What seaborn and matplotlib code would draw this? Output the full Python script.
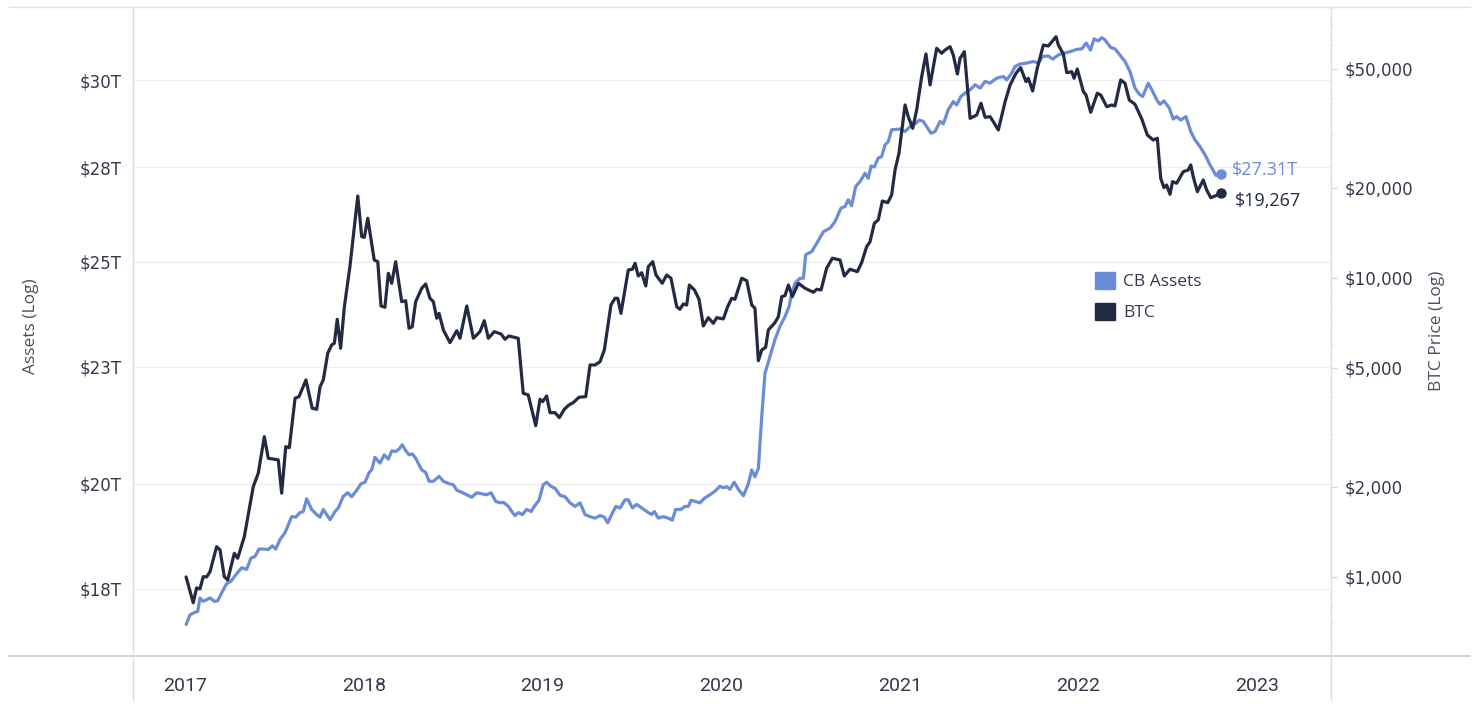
import numpy as np
import pandas as pd
import matplotlib
matplotlib.use('Agg')
import matplotlib.pyplot as plt
import seaborn as sns
from matplotlib.lines import Line2D
from matplotlib.patches import Patch
from matplotlib.ticker import FixedLocator, NullLocator, MultipleLocator, LogLocator

# central bank assets (trillion USD), decimal years
cb_year = [
    2017.006, 2017.028, 2017.052, 2017.071, 2017.084, 2017.102, 2017.140, 2017.164, 2017.183, 2017.205,
    2017.233, 2017.257, 2017.284, 2017.317, 2017.345, 2017.369, 2017.392, 2017.414, 2017.438, 2017.466,
    2017.489, 2017.508, 2017.532, 2017.560, 2017.597, 2017.620, 2017.644, 2017.662, 2017.681, 2017.709,
    2017.737, 2017.756, 2017.774, 2017.812, 2017.840, 2017.858, 2017.886, 2017.911, 2017.933, 2017.961,
    2017.985,
    2018.007, 2018.031, 2018.045, 2018.063, 2018.091, 2018.115, 2018.138, 2018.157, 2018.179, 2018.198,
    2018.216, 2018.235, 2018.254, 2018.272, 2018.291, 2018.325, 2018.347, 2018.366, 2018.390, 2018.422,
    2018.446, 2018.478, 2018.502, 2018.521, 2018.549, 2018.577, 2018.605, 2018.633, 2018.661, 2018.689,
    2018.713, 2018.739, 2018.763, 2018.782, 2018.810, 2018.829, 2018.847, 2018.866, 2018.888, 2018.912,
    2018.937, 2018.955, 2018.981,
    2019.005, 2019.024, 2019.048, 2019.071, 2019.099, 2019.127, 2019.155, 2019.183, 2019.211, 2019.239,
    2019.267, 2019.295, 2019.323, 2019.347, 2019.366, 2019.388, 2019.411, 2019.435, 2019.463, 2019.481,
    2019.504, 2019.528, 2019.556, 2019.584, 2019.612, 2019.627, 2019.649, 2019.677, 2019.705, 2019.727,
    2019.746, 2019.776, 2019.798, 2019.817, 2019.832, 2019.854, 2019.882, 2019.910, 2019.938, 2019.966,
    2019.994,
    2020.013, 2020.032, 2020.050, 2020.074, 2020.097, 2020.125, 2020.151, 2020.172, 2020.190, 2020.209,
    2020.228, 2020.246, 2020.274, 2020.302, 2020.330, 2020.358, 2020.381, 2020.396, 2020.414, 2020.442,
    2020.461, 2020.474, 2020.508, 2020.536, 2020.573, 2020.610, 2020.638, 2020.672, 2020.694, 2020.712,
    2020.731, 2020.754, 2020.778, 2020.806, 2020.824, 2020.840, 2020.858, 2020.880, 2020.899, 2020.918,
    2020.936, 2020.955,
    2021.002, 2021.030, 2021.058, 2021.086, 2021.110, 2021.132, 2021.151, 2021.175, 2021.198, 2021.226,
    2021.244, 2021.272, 2021.300, 2021.319, 2021.342, 2021.366, 2021.394, 2021.422, 2021.450, 2021.478,
    2021.506, 2021.543, 2021.580, 2021.599, 2021.627, 2021.645, 2021.673, 2021.711, 2021.748, 2021.776,
    2021.800, 2021.832, 2021.856, 2021.888, 2021.916, 2021.953, 2021.989,
    2022.019, 2022.044, 2022.068, 2022.088, 2022.112, 2022.131, 2022.149, 2022.181, 2022.205, 2022.229,
    2022.261, 2022.289, 2022.317, 2022.341, 2022.360, 2022.391, 2022.416, 2022.442, 2022.457, 2022.479,
    2022.509, 2022.531, 2022.550, 2022.573, 2022.602, 2022.629, 2022.653, 2022.681, 2022.709, 2022.737,
    2022.770, 2022.797,
]
cb_assets = [
    17.36, 17.53, 17.57, 17.59, 17.83, 17.77, 17.83, 17.77, 17.78, 17.92,
    18.09, 18.13, 18.25, 18.38, 18.35, 18.56, 18.59, 18.73, 18.73, 18.72,
    18.79, 18.73, 18.91, 19.04, 19.35, 19.34, 19.43, 19.45, 19.70, 19.49,
    19.39, 19.34, 19.49, 19.29, 19.45, 19.52, 19.75, 19.82, 19.74, 19.87,
    20.00,
    20.03, 20.23, 20.28, 20.54, 20.42, 20.59, 20.50, 20.67, 20.66, 20.71,
    20.80, 20.68, 20.59, 20.61, 20.52, 20.28, 20.23, 20.05, 20.05, 20.15,
    20.05, 20.00, 19.98, 19.87, 19.83, 19.78, 19.73, 19.82, 19.80, 19.78,
    19.82, 19.65, 19.62, 19.63, 19.55, 19.45, 19.37, 19.43, 19.39, 19.49,
    19.45, 19.55, 19.67,
    19.98, 20.03, 19.95, 19.91, 19.77, 19.74, 19.62, 19.55, 19.62, 19.39,
    19.35, 19.32, 19.37, 19.34, 19.23, 19.39, 19.55, 19.52, 19.68, 19.68,
    19.52, 19.59, 19.52, 19.45, 19.39, 19.45, 19.32, 19.35, 19.32, 19.28,
    19.49, 19.49, 19.55, 19.55, 19.67, 19.65, 19.62, 19.72, 19.78, 19.85,
    19.95,
    19.92, 19.94, 19.89, 20.03, 19.89, 19.76, 19.98, 20.28, 20.14, 20.31,
    21.40, 22.35, 22.73, 23.12, 23.43, 23.66, 23.90, 24.23, 24.47, 24.59,
    24.59, 25.18, 25.26, 25.47, 25.77, 25.86, 26.03, 26.39, 26.43, 26.61,
    26.45, 26.97, 27.10, 27.33, 27.19, 27.53, 27.50, 27.75, 27.79, 28.12,
    28.21, 28.55,
    28.57, 28.50, 28.64, 28.72, 28.83, 28.79, 28.64, 28.45, 28.50, 28.79,
    28.72, 29.13, 29.37, 29.27, 29.52, 29.62, 29.72, 29.87, 29.77, 29.97,
    29.92, 30.07, 30.12, 30.02, 30.22, 30.42, 30.50, 30.53, 30.58, 30.53,
    30.73, 30.75, 30.65, 30.78, 30.83, 30.88, 30.95,
    30.97, 31.15, 30.93, 31.28, 31.22, 31.32, 31.25, 31.01, 30.97, 30.80,
    30.58, 30.27, 29.77, 29.59, 29.52, 29.92, 29.67, 29.39, 29.29, 29.39,
    29.18, 28.86, 28.93, 28.83, 28.93, 28.50, 28.26, 28.07, 27.84, 27.56,
    27.27, 27.31,
]

# bitcoin price (USD), decimal years
btc_year = [
    2017.006, 2017.046, 2017.065, 2017.084, 2017.102, 2017.121, 2017.140, 2017.177, 2017.196, 2017.220,
    2017.239, 2017.276, 2017.295, 2017.332, 2017.382, 2017.410, 2017.444, 2017.466, 2017.522, 2017.541,
    2017.564, 2017.584, 2017.616, 2017.638, 2017.677, 2017.712, 2017.737, 2017.756, 2017.774, 2017.799,
    2017.821, 2017.836, 2017.852, 2017.871, 2017.892, 2017.923, 2017.967, 2017.989,
    2018.004, 2018.023, 2018.059, 2018.079, 2018.097, 2018.119, 2018.138, 2018.157, 2018.179, 2018.213,
    2018.235, 2018.254, 2018.272, 2018.291, 2018.325, 2018.347, 2018.371, 2018.390, 2018.409, 2018.422,
    2018.446, 2018.483, 2018.521, 2018.539, 2018.577, 2018.614, 2018.651, 2018.675, 2018.698, 2018.731,
    2018.769, 2018.791, 2018.813, 2018.865, 2018.893, 2018.921, 2018.963, 2018.987,
    2019.002, 2019.024, 2019.043, 2019.071, 2019.095, 2019.123, 2019.149, 2019.173, 2019.205, 2019.243,
    2019.267, 2019.295, 2019.323, 2019.347, 2019.384, 2019.407, 2019.422, 2019.440, 2019.481, 2019.504,
    2019.519, 2019.537, 2019.556, 2019.579, 2019.593, 2019.618, 2019.636, 2019.671, 2019.696, 2019.720,
    2019.752, 2019.770, 2019.789, 2019.808, 2019.823, 2019.851, 2019.877, 2019.901, 2019.929, 2019.957,
    2019.976,
    2020.013, 2020.037, 2020.060, 2020.078, 2020.116, 2020.144, 2020.172, 2020.190, 2020.209, 2020.228,
    2020.250, 2020.265, 2020.302, 2020.321, 2020.340, 2020.358, 2020.377, 2020.390, 2020.399, 2020.433,
    2020.470, 2020.517, 2020.536, 2020.560, 2020.591, 2020.623, 2020.666, 2020.690, 2020.722, 2020.763,
    2020.787, 2020.815, 2020.834, 2020.858, 2020.880, 2020.903, 2020.933, 2020.955, 2020.974, 2020.996,
    2021.030, 2021.048, 2021.073, 2021.095, 2021.123, 2021.147, 2021.170, 2021.207, 2021.235, 2021.254,
    2021.282, 2021.300, 2021.323, 2021.338, 2021.362, 2021.394, 2021.431, 2021.455, 2021.478, 2021.506,
    2021.524, 2021.552, 2021.590, 2021.618, 2021.651, 2021.677, 2021.707, 2021.720, 2021.744, 2021.770,
    2021.804, 2021.832, 2021.875, 2021.888, 2021.916, 2021.935, 2021.963, 2021.976, 2021.994,
    2022.028, 2022.043, 2022.069, 2022.106, 2022.125, 2022.159, 2022.187, 2022.205, 2022.237, 2022.261,
    2022.285, 2022.317, 2022.355, 2022.386, 2022.419, 2022.442, 2022.461, 2022.479, 2022.494, 2022.513,
    2022.527, 2022.550, 2022.587, 2022.615, 2022.629, 2022.643, 2022.666, 2022.699, 2022.718, 2022.741,
    2022.770, 2022.797,
]
btc_price = [
    1000, 820, 919, 912, 1002, 1000, 1041, 1263, 1231, 1002,
    977, 1200, 1155, 1364, 2004, 2222, 2946, 2495, 2463, 1905,
    2728, 2707, 3961, 4009, 4559, 3666, 3638, 4330, 4559, 5601,
    5970, 6049, 7275, 5820, 8017, 10908, 18800, 13743,
    13680, 15838, 11487, 11336, 8060, 7980, 10363, 9600, 11336, 8330,
    8396, 6788, 6872, 8330, 9239, 9548, 8553, 8330, 7331, 7615,
    6700, 6077, 6663, 6285, 8060, 6285, 6613, 7197, 6285, 6613,
    6497, 6237, 6398, 6285, 4116, 4062, 3206, 3930,
    3858, 4031, 3544, 3544, 3410, 3638, 3761, 3828, 3990, 4009,
    5117, 5117, 5250, 5743, 8122, 8553, 8553, 7615, 10636, 10693,
    11199, 10155, 10416, 9401, 10908, 11336, 10233, 9600, 10233, 9977,
    8017, 7859, 8185, 8122, 9475, 9118, 8487, 6910, 7366, 7055,
    7366,
    7293, 8017, 8553, 8487, 9977, 9794, 8122, 7920, 5289, 5743,
    5864, 6700, 7088, 7423, 8661, 8726, 9475, 9000, 8661, 9600,
    9239, 8959, 9167, 9118, 10775, 11640, 11487, 10155, 10693, 10498,
    11250, 12725, 13222, 15235, 15631, 18093, 17857, 18950, 22975, 26130,
    37900, 34630, 31670, 36470, 47120, 56140, 44220, 58650, 56440, 57870,
    59360, 55700, 48120, 54300, 57130, 34200, 35090, 38400, 34470, 34630,
    33320, 31260, 38870, 44220, 48380, 50520, 45350, 46550, 42220, 50280,
    60150, 59690, 64120, 60150, 56140, 48600, 48980, 46550, 50000,
    42000, 40930, 35820, 41480, 40930, 37400, 37900, 37610, 45950, 44800,
    39380, 38100, 34020, 30080, 28940, 29320, 21540, 20050, 20470, 19050,
    21000, 20740, 22670, 22975, 23880, 21820, 19440, 21270, 19700, 18560,
    18850, 19267,
]

years = [2017, 2018, 2019, 2020, 2021, 2022, 2023]
asset_ticks = [18, 20, 22.5, 25, 27.5, 30]
asset_labels = ['$18T', '$20T', '$23T', '$25T', '$28T', '$30T']
btc_ticks = [1000, 2000, 5000, 10000, 20000, 50000]
btc_labels = ['$1,000', '$2,000', '$5,000', '$10,000', '$20,000', '$50,000']

BLUE = '#6b8cd6'
NAVY = '#232a43'
TXT = '#343a4c'
LINE = '#d9d9d9'

sns.set_style('white')
plt.rcParams['font.family'] = ['Open Sans', 'DejaVu Sans']

W, H = 1476, 718
fig = plt.figure(figsize=(W / 100, H / 100), dpi=100)
ax = fig.add_axes([133 / W, 1 - 656 / H, (1331 - 133) / W, (656 - 7) / H])

sns.lineplot(x=cb_year, y=cb_assets, ax=ax, color=BLUE, linewidth=2.3, estimator=None)
ax.plot(cb_year[-1], cb_assets[-1], 'o', color=BLUE, ms=6.5)

ax2 = ax.twinx()
sns.lineplot(x=btc_year, y=btc_price, ax=ax2, color=NAVY, linewidth=2.3, estimator=None)
ax2.plot(btc_year[-1], btc_price[-1], 'o', color=NAVY, ms=6.5)

# left axis
ax.set_yscale('log')
ax.set_ylim(16.82, 32.30)
ax.yaxis.set_major_locator(FixedLocator(asset_ticks))
ax.yaxis.set_minor_locator(NullLocator())
ax.set_yticklabels(asset_labels, family='DejaVu Sans')
ax.tick_params(axis='y', length=0, pad=8, labelsize=12, labelcolor=TXT)
ax.grid(True, axis='y', color='#efefef', lw=1)
ax.grid(False, axis='x')

# x axis
ax.set_xlim(2016.709, 2023.414)
ax.set_xticks(years)
ax.set_xticklabels([str(y) for y in years], family=['Roboto', 'DejaVu Sans'])
ax.xaxis.set_minor_locator(MultipleLocator(1 / 12))
ax.tick_params(axis='x', which='major', length=6, color=LINE, pad=9, labelsize=14, labelcolor=TXT)
ax.tick_params(axis='x', which='minor', length=3, color='#ececec')
ax.set_xlabel('')
ax.set_ylabel('')

# right axis
ax2.set_yscale('log')
ax2.set_ylim(544, 80600)
ax2.yaxis.set_major_locator(FixedLocator(btc_ticks))
ax2.yaxis.set_minor_locator(LogLocator(base=10, subs=(3, 4, 6, 7, 8, 9)))
ax2.set_yticklabels(btc_labels, family='DejaVu Sans')
ax2.yaxis.set_minor_formatter(plt.NullFormatter())
ax2.tick_params(axis='y', which='major', length=4, color=LINE, pad=6, labelsize=12, labelcolor=TXT)
ax2.tick_params(axis='y', which='minor', length=3, color='#ececec')
ax2.set_ylabel('')

for a in (ax, ax2):
    for s in a.spines.values():
        s.set_visible(False)

# axis titles
fig.text(31 / W, 1 - 326 / H, 'Assets (Log)', rotation=90, ha='center', va='center',
         fontsize=12.5, color='#4a5060')
fig.text(1437 / W, 1 - 331 / H, 'BTC Price (Log)', rotation=90, ha='center', va='center',
         fontsize=12.5, color='#4a5060')

# end labels
ax.annotate(f'${cb_assets[-1]:.2f}T', xy=(cb_year[-1], cb_assets[-1]), xytext=(8, 2.5),
            textcoords='offset points', ha='left', va='center', color=BLUE, fontsize=13)
ax2.annotate(f'${btc_price[-1]:,.0f}', xy=(btc_year[-1], btc_price[-1]), xytext=(10, -6),
             textcoords='offset points', ha='left', va='center', color=NAVY, fontsize=13)

# legend
handles = [Patch(color=BLUE, label='CB Assets'), Patch(color=NAVY, label='BTC')]
ax2.legend(handles=handles, loc='upper left', bbox_to_anchor=((1095 - 133) / 1198, (656 - 272) / 649),
           frameon=False, fontsize=12.5, handlelength=1.15, handleheight=1.15, handletextpad=0.45,
           labelspacing=0.72, borderpad=0, borderaxespad=0, labelcolor=TXT)

# tableau-like frame lines
x0, x1 = 9 / W, 1470 / W
ytop, ybot = 1 - 7 / H, 1 - 656 / H
fig.add_artist(Line2D([x0, x1], [ytop, ytop], transform=fig.transFigure, color='#e3e3e3', lw=1))
fig.add_artist(Line2D([x0, x1], [ybot, ybot], transform=fig.transFigure, color='#cfcfcf', lw=1.3))
for xv in (133 / W, 1331 / W):
    fig.add_artist(Line2D([xv, xv], [1 - 700 / H, ytop], transform=fig.transFigure, color='#dcdcdc', lw=1))

fig.savefig('out.png', dpi=100)
plt.close()
